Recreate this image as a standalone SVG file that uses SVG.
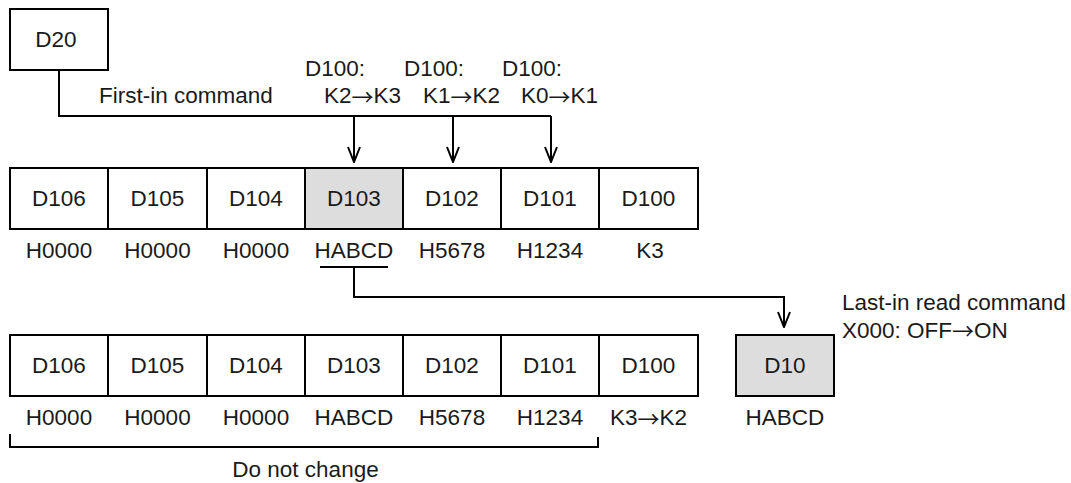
<svg xmlns="http://www.w3.org/2000/svg" width="1071" height="483" viewBox="0 0 1071 483">
<style>
  .box { fill: #ffffff; stroke: #000000; stroke-width: 2; }
  .hl { fill: #dddddd; }
  .t { font-family: "Liberation Sans", Arial, sans-serif; font-size: 22.5px; fill: #1a1a1a; }
  .c { text-anchor: middle; }
  .a { font-family: "Noto Sans CJK JP", "DejaVu Sans", sans-serif; font-size: 22px; }
  .ln { fill: none; stroke: #000000; stroke-width: 2; }
  .arr { marker-end: url(#vhead); }
</style>
<defs>
  <marker id="vhead" viewBox="-1 -1 17 14" refX="15" refY="6" markerWidth="17" markerHeight="14" markerUnits="userSpaceOnUse" orient="auto">
    <path d="M0,0 L15,6 L0,12" fill="none" stroke="#000000" stroke-width="2"/>
  </marker>
</defs>
<rect width="1071" height="483" fill="#ffffff"/>

<g id="d20">
  <rect class="box" x="10" y="9" width="98" height="61"/>
  <text class="t c" x="56" y="47">D20</text>
</g>

<g id="labels-top">
  <text class="t" x="99" y="103">First-in command</text>
  <text class="t" x="305" y="76">D100:</text>
  <text class="t" x="324" y="103">K2<tspan class="a" dy="1.5">→</tspan><tspan dy="-1.5">K3</tspan></text>
  <text class="t" x="404" y="76">D100:</text>
  <text class="t" x="423" y="103">K1<tspan class="a" dy="1.5">→</tspan><tspan dy="-1.5">K2</tspan></text>
  <text class="t" x="502" y="76">D100:</text>
  <text class="t" x="521" y="103">K0<tspan class="a" dy="1.5">→</tspan><tspan dy="-1.5">K1</tspan></text>
</g>

<g id="row1">
  <g id="r1-d106"><rect class="box" x="10" y="168" width="98" height="61"/><text class="t c" x="59" y="206">D106</text></g>
  <g id="r1-d105"><rect class="box" x="108" y="168" width="99" height="61"/><text class="t c" x="157.5" y="206">D105</text></g>
  <g id="r1-d104"><rect class="box" x="207" y="168" width="98" height="61"/><text class="t c" x="256" y="206">D104</text></g>
  <g id="r1-d103"><rect class="box hl" x="305" y="168" width="98" height="61"/><text class="t c" x="354" y="206">D103</text></g>
  <g id="r1-d102"><rect class="box" x="403" y="168" width="98" height="61"/><text class="t c" x="452" y="206">D102</text></g>
  <g id="r1-d101"><rect class="box" x="501" y="168" width="98" height="61"/><text class="t c" x="550" y="206">D101</text></g>
  <g id="r1-d100"><rect class="box" x="599" y="168" width="99" height="61"/><text class="t c" x="648.5" y="206">D100</text></g>
</g>
<g id="row1-values">
  <text class="t c" x="59" y="258">H0000</text>
  <text class="t c" x="157.5" y="258">H0000</text>
  <text class="t c" x="256" y="258">H0000</text>
  <text class="t c" x="354" y="258">HABCD</text>
  <text class="t c" x="452" y="258">H5678</text>
  <text class="t c" x="550" y="258">H1234</text>
  <text class="t c" x="650" y="258">K3</text>
</g>

<g id="row2">
  <g id="r2-d106"><rect class="box" x="10" y="335" width="98" height="61"/><text class="t c" x="59" y="373">D106</text></g>
  <g id="r2-d105"><rect class="box" x="108" y="335" width="99" height="61"/><text class="t c" x="157.5" y="373">D105</text></g>
  <g id="r2-d104"><rect class="box" x="207" y="335" width="98" height="61"/><text class="t c" x="256" y="373">D104</text></g>
  <g id="r2-d103"><rect class="box" x="305" y="335" width="98" height="61"/><text class="t c" x="354" y="373">D103</text></g>
  <g id="r2-d102"><rect class="box" x="403" y="335" width="98" height="61"/><text class="t c" x="452" y="373">D102</text></g>
  <g id="r2-d101"><rect class="box" x="501" y="335" width="98" height="61"/><text class="t c" x="550" y="373">D101</text></g>
  <g id="r2-d100"><rect class="box" x="599" y="335" width="99" height="61"/><text class="t c" x="648.5" y="373">D100</text></g>
</g>
<g id="row2-values">
  <text class="t c" x="59" y="425">H0000</text>
  <text class="t c" x="157.5" y="425">H0000</text>
  <text class="t c" x="256" y="425">H0000</text>
  <text class="t c" x="354" y="425">HABCD</text>
  <text class="t c" x="452" y="425">H5678</text>
  <text class="t c" x="550" y="425">H1234</text>
  <text class="t c" x="648.5" y="425">K3<tspan class="a" dy="1.5">→</tspan><tspan dy="-1.5">K2</tspan></text>
</g>

<g id="d10">
  <rect class="box hl" x="736" y="335" width="98" height="61"/>
  <text class="t c" x="785" y="373">D10</text>
  <text class="t c" x="785" y="425">HABCD</text>
</g>

<g id="last-in-label">
  <text class="t" x="842" y="310">Last-in read command</text>
  <text class="t" x="842" y="337.5">X000: OFF<tspan class="a" dy="1.5">→</tspan><tspan dy="-1.5">ON</tspan></text>
</g>

<g id="do-not-change">
  <path class="ln" d="M10,434 V447 H598 V437"/>
  <text class="t c" x="305.5" y="477">Do not change</text>
</g>

<g id="connectors">
  <path class="ln" d="M59,70 V116 H551"/>
  <path class="ln arr" d="M354,116 V162"/>
  <path class="ln arr" d="M453,116 V162"/>
  <path class="ln arr" d="M551,116 V162"/>
  <path class="ln" d="M320,267 H388"/>
  <path class="ln arr" d="M354,267 V297 H784 V327"/>
</g>
</svg>
